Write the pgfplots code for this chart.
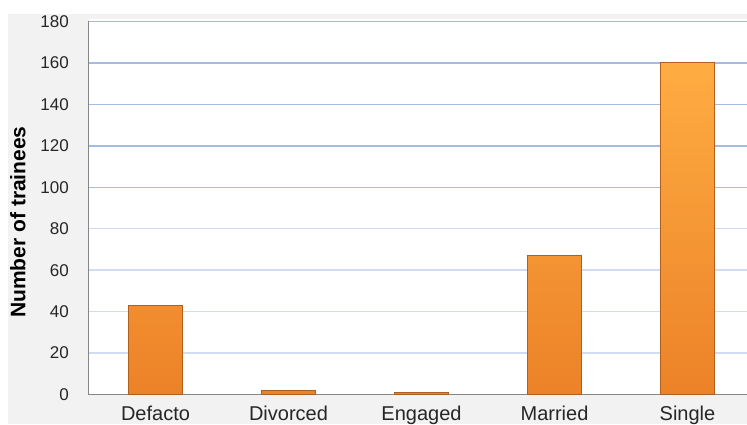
\documentclass[border=0pt]{standalone}
\usepackage{fontspec}
\setmainfont{Liberation Sans}
\usepackage{pgfplots}
\pgfplotsset{compat=1.18}
\definecolor{bgGray}{RGB}{242,242,242}
\definecolor{gridDark}{RGB}{163,187,229}
\definecolor{gridLight}{RGB}{208,220,241}
\definecolor{axGray}{RGB}{134,134,134}
\definecolor{barTop}{RGB}{254,172,66}
\definecolor{barMid}{RGB}{251,154,48}
\definecolor{barBot}{RGB}{236,130,40}
\definecolor{barEdge}{RGB}{176,96,30}
\begin{document}
\begin{tikzpicture}
\useasboundingbox (0pt,0pt) rectangle (747pt,424pt);
\clip (0pt,0pt) rectangle (747pt,424pt);
\fill[white] (0pt,0pt) rectangle (747pt,424pt);
\fill[bgGray] (8pt,0pt) rectangle (747pt,410pt);
\fill[white] (89pt,29.5pt) rectangle (747pt,405pt);
\begin{axis}[
  at={(89pt,29.5pt)}, anchor=south west,
  scale only axis, width=665pt, height=373pt,
  xmin=-0.5, xmax=4.5, ymin=0, ymax=180,
  ybar, bar width=54pt,
  axis x line*=bottom, axis y line*=left,
  axis line style={draw=axGray, line width=1pt, -},
  major tick length=0pt,
  xtick={0,1,2,3,4},
  xticklabels={Defacto, Divorced, Engaged, Married, Single},
  ytick={0,20,...,180},
  ymajorgrids,
  major grid style={draw=gridLight, line width=1.5pt},
  extra y ticks={100,120,140,160,180},
  extra y tick labels={},
  extra y tick style={grid=major, major grid style={draw=gridDark, line width=1.5pt}},
  /pgf/number format/assume math mode=true,
  yticklabel style={font=\fontsize{17}{20}\selectfont, inner sep=0pt, anchor=east, xshift=-20pt, text=black!85},
  xticklabel style={font=\fontsize{20}{24}\selectfont, inner sep=0pt, anchor=north, yshift=-11pt, text=black!85},
  ylabel={Number of trainees},
  ylabel style={font=\bfseries\fontsize{21}{24}\selectfont, at={(axis description cs:-0.1068,0.4625)}, anchor=center},
]
\addplot[ybar, bar width=54pt, draw=barEdge, line width=0.9pt, top color=barTop, middle color=barMid, bottom color=barBot]
  coordinates {(0,43) (1,2) (2,1) (3,67) (4,160)};
\end{axis}
\end{tikzpicture}
\end{document}
